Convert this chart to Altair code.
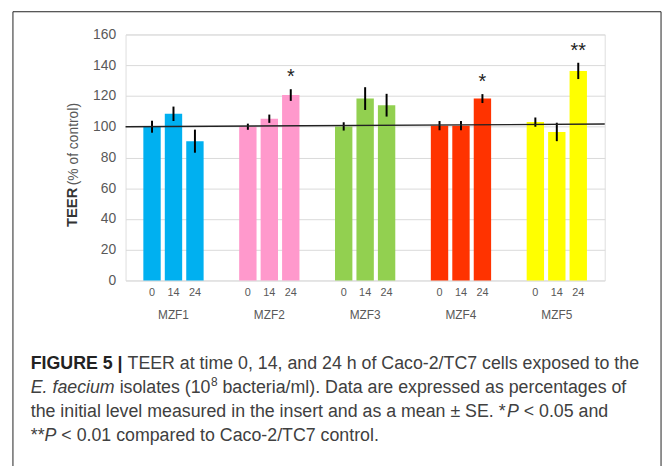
import altair as alt
import pandas as pd

# ---- data ----
groups = ["MZF1", "MZF2", "MZF3", "MZF4", "MZF5"]
times = ["0", "14", "24"]
colors = ["#00b0f0", "#ff99cc", "#92d050", "#ff3300", "#ffff00"]
means = [
    [100.0, 108.4, 90.6],
    [100.0, 105.2, 120.6],
    [100.2, 118.3, 114.0],
    [100.7, 100.7, 118.3],
    [103.0, 96.6, 136.3],
]
errors = [
    [3.9, 4.7, 7.5],
    [2.0, 2.7, 3.8],
    [2.7, 7.4, 7.4],
    [3.0, 3.0, 2.9],
    [3.0, 6.0, 5.3],
]
stars = [
    ["", "", ""],
    ["", "", "*"],
    ["", "", ""],
    ["", "", "*"],
    ["", "", "**"],
]
ref_line = [100.0, 101.7]
y_ticks = [0, 20, 40, 60, 80, 100, 120, 140, 160]

rows = []
for gi, g in enumerate(groups):
    for ti, t in enumerate(times):
        m = means[gi][ti]
        e = errors[gi][ti]
        rows.append({"group": g, "time": t, "mean": m, "lo": m - e, "hi": m + e,
                     "star": stars[gi][ti]})
df = pd.DataFrame(rows)

W, H = 485, 249
FONT = "Liberation Sans"

x_axis = alt.Axis(domain=False, ticks=False, labelPadding=30, labelAngle=0,
                  labelFontSize=12, labelColor="#595959", labelFont=FONT, grid=False)
x_scale = alt.Scale(paddingInner=0.371, paddingOuter=0.1855)
xo_scale = alt.Scale(paddingInner=0.19, paddingOuter=0)
y_axis = alt.Axis(values=y_ticks, domain=False, ticks=False, labelPadding=10,
                  labelFontSize=14, labelColor="#595959", labelFont=FONT,
                  labelOverlap=False, gridColor="#d9d9d9", gridWidth=1)
y_scale = alt.Scale(domain=[0, 160], nice=False)


def X():
    return alt.X("group:N", sort=groups, title=None, scale=x_scale, axis=x_axis)


def XO():
    return alt.XOffset("time:N", sort=times, scale=xo_scale)


def Y(field):
    return alt.Y(field, scale=y_scale, title=None, axis=y_axis)


base = alt.Chart(df)

bars = base.mark_bar().encode(
    x=X(), xOffset=XO(), y=Y("mean:Q"),
    color=alt.Color("group:N", sort=groups,
                    scale=alt.Scale(domain=groups, range=colors), legend=None),
)

err = base.mark_rule(color="black", strokeWidth=2).encode(
    x=X(), xOffset=XO(), y=Y("lo:Q"), y2="hi:Q",
)

star_txt = base.mark_text(baseline="middle", dy=-12, fontSize=20, font=FONT,
                          color="#222222").encode(
    x=X(), xOffset=XO(), y=Y("hi:Q"), text="star:N",
)

time_lbl = base.mark_text(baseline="middle", fontSize=11, font=FONT,
                          color="#595959").encode(
    x=X(), xOffset=XO(), y=alt.value(H + 13), text="time:N",
)

ref_df = pd.DataFrame({"y": [ref_line[0]], "y2": [ref_line[1]]})
ref = alt.Chart(ref_df).mark_rule(color="#222222", strokeWidth=1.5).encode(
    x=alt.value(0), x2=alt.value(W), y=Y("y:Q"), y2="y2:Q",
)

one = pd.DataFrame({"k": [0]})


def label(text, x, y, size, weight="normal", style="normal", font=FONT,
          color="#595959", angle=0, align="left", baseline="alphabetic"):
    return alt.Chart(one).mark_text(
        text=text, fontSize=size, fontWeight=weight, fontStyle=style, font=font,
        color=color, angle=angle, align=align, baseline=baseline,
    ).encode(x=alt.value(x), y=alt.value(y))


# y-axis title (two sizes)
ytitle = [
    label("TEER", -54, 175, 15, weight="bold", angle=270, align="center",
          baseline="middle", color="#333333"),
    label("(% of control)", -52, 111, 14, angle=270, align="center",
          baseline="middle", color="#595959"),
]

# frame
frame = alt.Chart(one).mark_rect(fillOpacity=0, stroke="#222222", strokeWidth=1).encode(
    x=alt.value(-114), x2=alt.value(542), y=alt.value(-23), y2=alt.value(460),
)

# caption (positions given in page pixels, shifted to the plot origin)
CC = "#404040"
BC = "#222222"
ox, oy = 127, 32
S = 18
cap = [
    label("FIGURE 5 |", 31 - ox, 371 - oy, S, weight="bold", color=BC),
    label("TEER at time 0, 14, and 24 h of Caco-2/TC7 cells exposed to the",
          129 - ox, 371 - oy, S, color=CC),
    label("E. faecium", 31 - ox, 395 - oy, S, style="italic", color=CC),
    label("isolates (10", 121 - ox, 395 - oy, S, color=CC),
    label("8", 213.5 - ox, 388 - oy, 12, color=CC),
    label("bacteria/ml). Data are expressed as percentages of", 225 - ox, 395 - oy, S,
          color=CC),
    label("the initial level measured in the insert and as a mean \u00b1 SE. *",
          31 - ox, 419 - oy, S, color=CC),
    label("P", 513 - ox, 419 - oy, S, style="italic", color=CC),
    label("< 0.05 and", 530 - ox, 419 - oy, S, color=CC),
    label("**", 31 - ox, 443 - oy, S, color=CC),
    label("P", 45 - ox, 443 - oy, S, style="italic", color=CC),
    label("< 0.01 compared to Caco-2/TC7 control.", 62 - ox, 443 - oy, S, color=CC),
]

chart = alt.layer(
    bars, err, ref, star_txt, time_lbl, frame, *ytitle, *cap
).properties(
    width=W, height=H,
    autosize=alt.AutoSizeParams(type="none"),
    padding={"left": 119, "right": 60, "top": 24, "bottom": 185},
).configure_view(stroke=None).configure(background="white")

chart.save("out.html", embed_options={"renderer": "svg", "actions": False})
